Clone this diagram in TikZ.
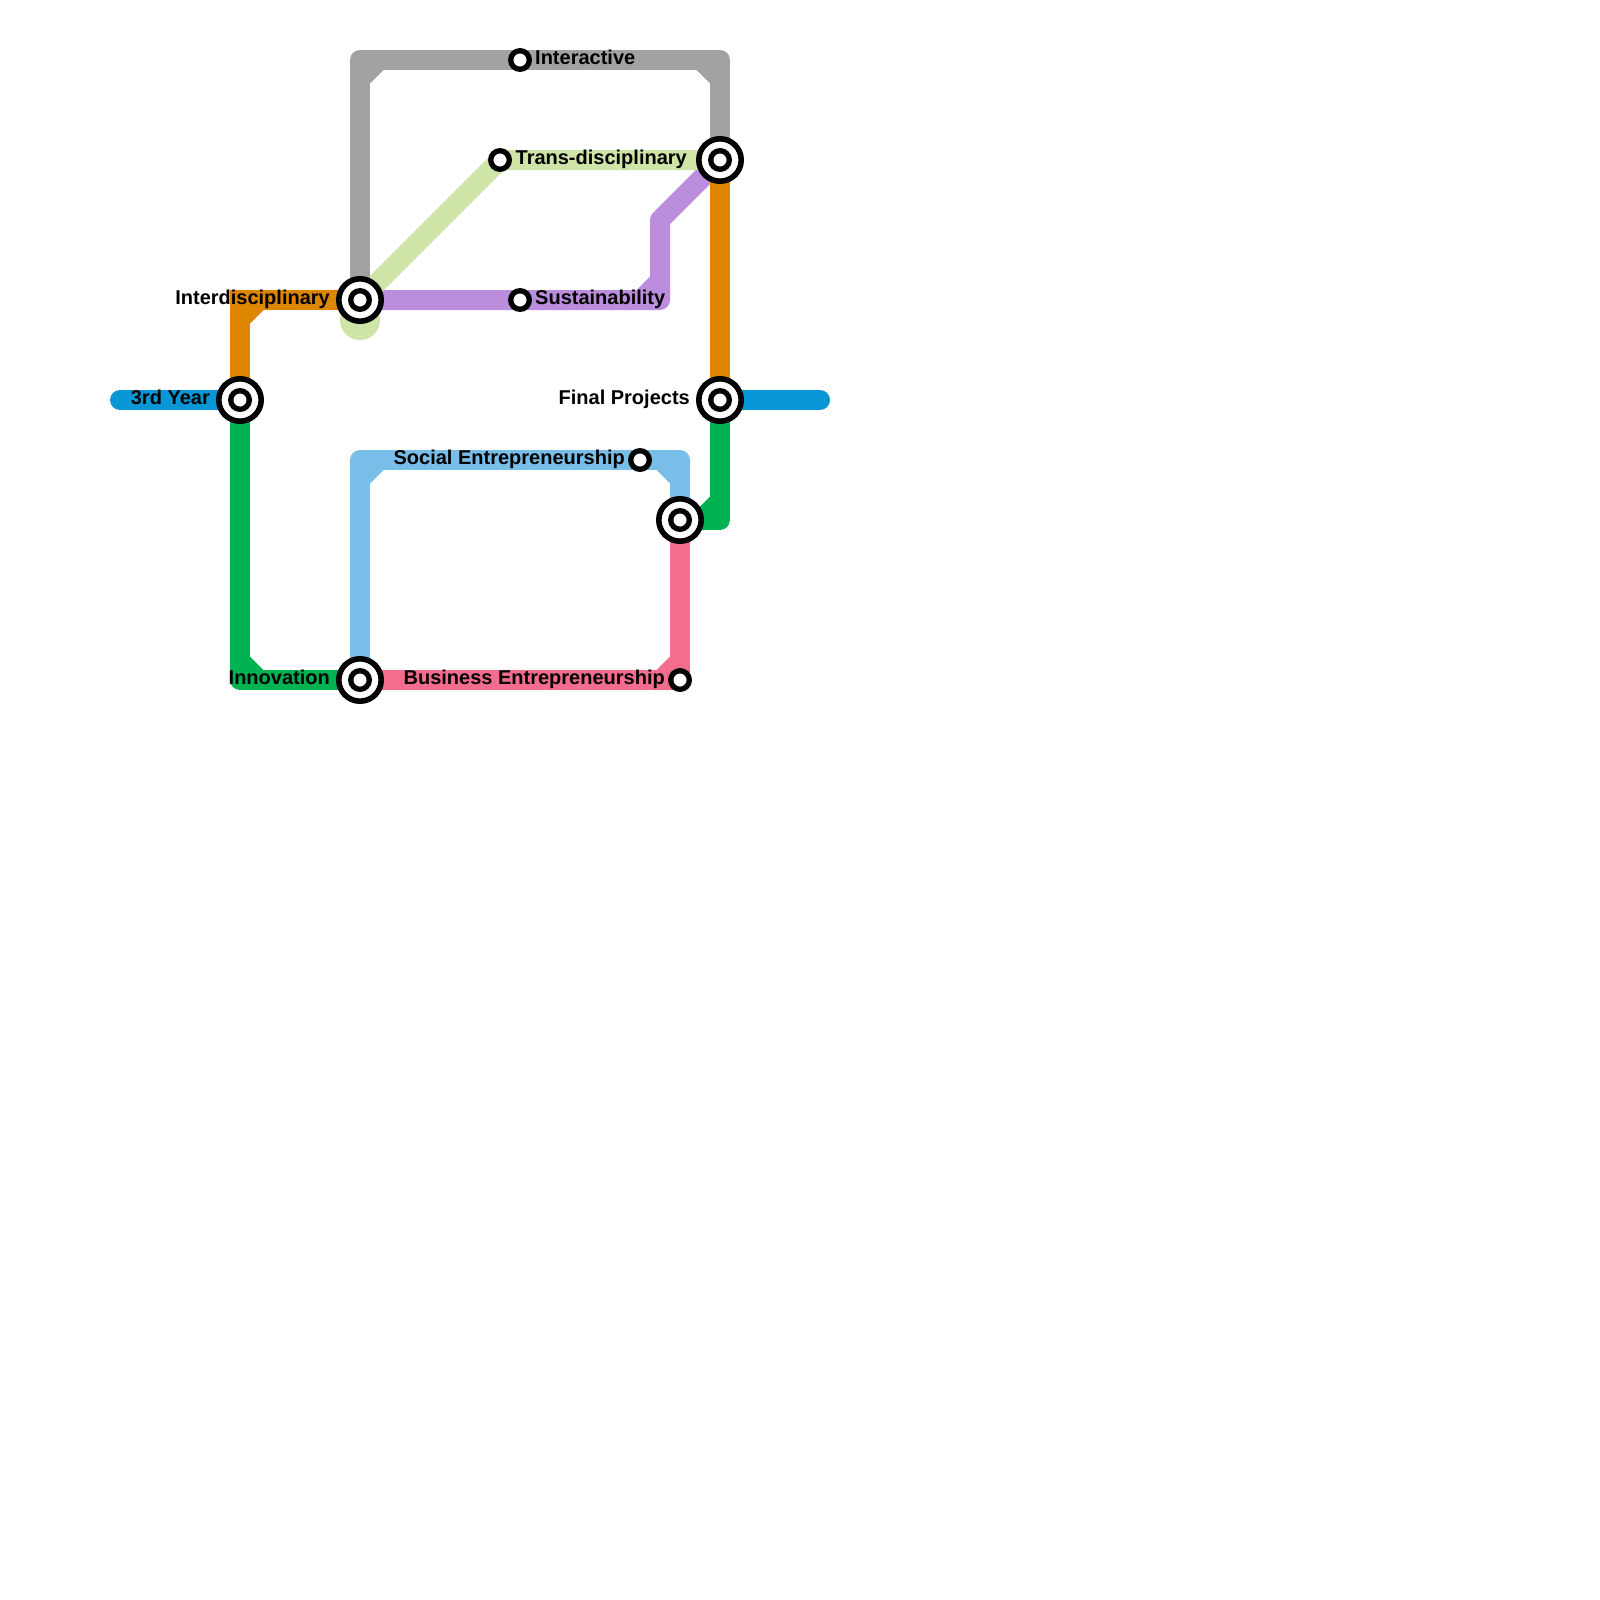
\documentclass[tikz,border=0pt]{standalone}
\usepackage{fontspec}
\setmainfont{Liberation Sans}
\usetikzlibrary{calc,backgrounds}
\definecolor{cSky}{HTML}{0896D7}
\definecolor{cOrange}{HTML}{DF8600}
\definecolor{cGray}{HTML}{A2A2A2}
\definecolor{cLime}{HTML}{CFE4A7}
\definecolor{cPurple}{HTML}{BB8DDD}
\definecolor{cLight}{HTML}{79BDE9}
\definecolor{cGreen}{HTML}{00B251}
\definecolor{cPink}{HTML}{F46D8E}
\newcommand{\notch}[4]{\fill[#1] ($(#2)+(#3*10,#4*10)$) -- ($(#2)+(#3*10,#4*23.5)$) -- ($(#2)+(#3*23.5,#4*10)$) -- cycle;}
\tikzset{
  route/.style={line width=20pt,line join=round,line cap=butt},
  endroute/.style={route,line cap=round},
  bigstation/.style={circle,draw=black,line width=5.6pt,fill=white,inner sep=0pt,minimum size=42.4pt,
    path picture={\draw[black,line width=5.3pt] (path picture bounding box.center) circle (9.3pt);}},
  smallstation/.style={circle,draw=black,line width=5.3pt,fill=white,inner sep=0pt,minimum size=18.6pt},
  lbl/.style={font=\fontsize{20pt}{24pt}\selectfont\bfseries,text=black,inner sep=0pt},
  lblL/.style={lbl,anchor=base west},
  lblR/.style={lbl,anchor=base east},
  blob/.style={circle,fill=cLime,inner sep=0pt,minimum size=40pt}
}
\begin{document}
\begin{tikzpicture}[x=1pt,y=-1pt]
\useasboundingbox (0,0) rectangle (1600,1600);
% stations
\node[bigstation] (year) at (240,400) {};
\node[bigstation] (inter) at (360,300) {};
\node[bigstation] (trans) at (720,160) {};
\node[bigstation] (final) at (720,400) {};
\node[bigstation] (ent) at (680,520) {};
\node[bigstation] (innov) at (360,680) {};
\node[smallstation] (active) at (520,60) {};
\node[smallstation] (tdis) at (500,160) {};
\node[smallstation] (sust) at (520,300) {};
\node[smallstation] (social) at (640,460) {};
\node[smallstation] (biz) at (680,680) {};
% route corners and free ends
\coordinate (gA) at (360,60);
\coordinate (gB) at (720,60);
\coordinate (oA) at (240,300);
\coordinate (pA) at (660,300);
\coordinate (pB) at (660,220);
\coordinate (bL) at (120,400);
\coordinate (bR) at (820,400);
\coordinate (grA) at (240,680);
\coordinate (grB) at (720,520);
\coordinate (lA) at (360,460);
\coordinate (lB) at (680,460);
% labels
\node[lblL] (tActive) at (535,64.6) {Interactive};
\node[lblR] (tTrans) at (687,164.6) {Trans-disciplinary};
\node[lblL] (tSust) at (535,304.6) {Sustainability};
\node[lblR] (tInter) at (330,304.6) {Interdisciplinary};
\node[lblR] (tYear) at (210,404.6) {3rd Year};
\node[lblR] (tFinal) at (690,404.6) {Final Projects};
\node[lblR] (tSocial) at (625,464.6) {Social Entrepreneurship};
\node[lblR] (tInnov) at (330,684.6) {Innovation};
\node[lblR] (tBiz) at (665,684.6) {Business Entrepreneurship};
\begin{pgfonlayer}{background}
  \fill[white] (0,0) rectangle (1600,1600);
  \draw[route,cPurple] (inter.center) -- (pA) -- (pB) -- (trans.center);
  \notch{cPurple}{pA}{-1}{-1}
  \node[blob] (limeend) at (360,320) {};
  \draw[route,cLime] (inter.center) -- (tdis.center) -- (trans.center);
  \draw[route,cGray] (inter.center) -- (gA) -- (gB) -- (trans.center);
  \notch{cGray}{gA}{1}{1}
  \notch{cGray}{gB}{-1}{1}
  \draw[route,cOrange,line join=miter] (year.center) -- (oA) -- (inter.center);
  \notch{cOrange}{oA}{1}{1}
  \draw[route,cOrange] (trans.center) -- (final.center);
  \draw[endroute,cSky] (bL) -- (year.center);
  \draw[endroute,cSky] (final.center) -- (bR);
  \draw[route,cGreen] (year.center) -- (grA) -- (innov.center);
  \notch{cGreen}{grA}{1}{-1}
  \draw[route,cGreen] (final.center) -- (grB) -- (ent.center);
  \notch{cGreen}{grB}{-1}{-1}
  \draw[route,cLight] (innov.center) -- (lA) -- (lB) -- (ent.center);
  \notch{cLight}{lA}{1}{1}
  \notch{cLight}{lB}{-1}{1}
  \draw[route,cPink] (innov.center) -- (biz.center) -- (ent.center);
  \notch{cPink}{biz}{-1}{-1}
\end{pgfonlayer}
\end{tikzpicture}
\end{document}
